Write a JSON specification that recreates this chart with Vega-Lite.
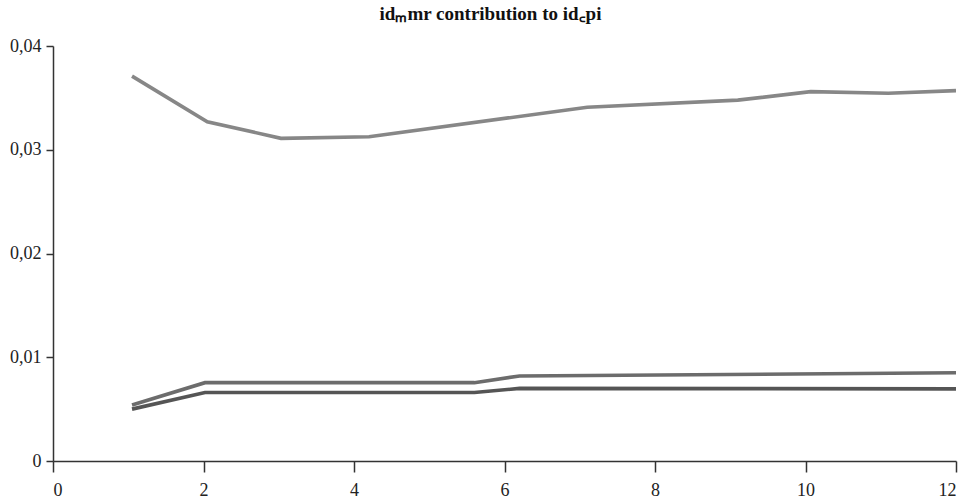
{
  "$schema": "https://vega.github.io/schema/vega-lite/v6.json",
  "autosize": {"type": "none"},
  "width": 903,
  "height": 415,
  "padding": {"left": 53, "top": 46, "right": 20, "bottom": 42},
  "background": "white",
  "title": {
    "text": "idₘmr contribution to id꜀pi",
    "font": "Liberation Serif",
    "fontSize": 19,
    "fontWeight": "bold",
    "color": "#111111",
    "anchor": "middle",
    "dx": -14,
    "offset": 13
  },
  "data": {
    "values": [
      {"h": 1.05, "v": 0.0371, "s": "a"},
      {"h": 2.05, "v": 0.0327, "s": "a"},
      {"h": 3.03, "v": 0.0311, "s": "a"},
      {"h": 4.2, "v": 0.03125, "s": "a"},
      {"h": 7.1, "v": 0.0341, "s": "a"},
      {"h": 9.1, "v": 0.03478, "s": "a"},
      {"h": 10.07, "v": 0.0356, "s": "a"},
      {"h": 11.1, "v": 0.03545, "s": "a"},
      {"h": 12, "v": 0.0357, "s": "a"},
      {"h": 1.05, "v": 0.0054, "s": "b"},
      {"h": 2.02, "v": 0.00755, "s": "b"},
      {"h": 5.6, "v": 0.00755, "s": "b"},
      {"h": 6.2, "v": 0.0082, "s": "b"},
      {"h": 12, "v": 0.0085, "s": "b"},
      {"h": 1.05, "v": 0.005, "s": "c"},
      {"h": 2.02, "v": 0.0066, "s": "c"},
      {"h": 5.6, "v": 0.0066, "s": "c"},
      {"h": 6.2, "v": 0.007, "s": "c"},
      {"h": 12, "v": 0.00695, "s": "c"}
    ]
  },
  "mark": {"type": "line", "strokeWidth": 3.6, "strokeCap": "butt", "strokeJoin": "miter"},
  "encoding": {
    "x": {
      "field": "h",
      "type": "quantitative",
      "scale": {"domain": [0, 12], "nice": false, "zero": false},
      "axis": {"values": [0, 2, 4, 6, 8, 10, 12], "format": "d", "title": null, "tickSize": 11, "labelPadding": 9}
    },
    "y": {
      "field": "v",
      "type": "quantitative",
      "scale": {"domain": [0, 0.04], "nice": false},
      "axis": {"values": [0, 0.01, 0.02, 0.03, 0.04], "format": "~f", "title": null, "tickSize": 7, "labelPadding": 5}
    },
    "color": {
      "field": "s",
      "type": "nominal",
      "scale": {"domain": ["a", "b", "c"], "range": ["#878787", "#6c6c6c", "#555555"]},
      "legend": null
    }
  },
  "config": {
    "locale": {"number": {"decimal": ",", "thousands": ".", "grouping": [3], "currency": ["", " €"]}},
    "view": {"stroke": null},
    "axis": {
      "grid": false,
      "domainColor": "#333333",
      "domainWidth": 1.5,
      "tickColor": "#333333",
      "tickWidth": 1.5,
      "labelFont": "Liberation Serif",
      "labelFontSize": 18,
      "labelColor": "#222222"
    }
  }
}
